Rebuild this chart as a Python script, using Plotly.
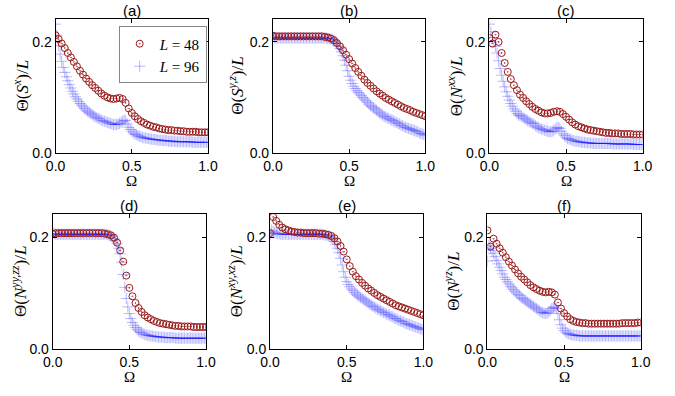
import numpy as np
import plotly.graph_objects as go

# ---------------- data ----------------
OMEGA_48 = np.round(np.arange(51) * 0.02, 2)
OMEGA_96 = np.round(np.arange(101) * 0.01, 2)

PANEL_TITLES = ["(a)", "(b)", "(c)", "(d)", "(e)", "(f)"]
Y_LABELS = [
    "Θ(<i>S</i><sup><i>x</i></sup>)/<i>L</i>",
    "Θ(<i>S</i><sup><i>y,z</i></sup>)/<i>L</i>",
    "Θ(<i>N</i><sup><i>xx</i></sup>)/<i>L</i>",
    "Θ(<i>N</i><sup><i>yy,zz</i></sup>)/<i>L</i>",
    "Θ(<i>N</i><sup><i>xy,xz</i></sup>)/<i>L</i>",
    "Θ(<i>N</i><sup><i>yz</i></sup>)/<i>L</i>",
]
SERIES_NAMES = ["<i>L</i> = 48", "<i>L</i> = 96"]
X_TICKS = [0.0, 0.5, 1.0]
Y_TICKS = [0.0, 0.2]

a48 = [0.212, 0.205, 0.197, 0.189, 0.180, 0.172, 0.164, 0.156, 0.148, 0.141,
       0.134, 0.128, 0.122, 0.117, 0.112, 0.107, 0.103, 0.100, 0.098, 0.097,
       0.098, 0.099, 0.097, 0.090, 0.080, 0.072, 0.066, 0.061, 0.057, 0.054,
       0.051, 0.049, 0.047, 0.046, 0.044, 0.043, 0.042, 0.041, 0.041, 0.040,
       0.040, 0.039, 0.039, 0.038, 0.038, 0.038, 0.038, 0.037, 0.037, 0.037, 0.037]
a96 = [0.232, 0.212, 0.193, 0.178, 0.165, 0.154, 0.145, 0.137, 0.130, 0.123,
       0.117, 0.111, 0.106, 0.101, 0.097, 0.093, 0.089, 0.086, 0.083, 0.080,
       0.077, 0.075, 0.073, 0.071, 0.069, 0.067, 0.065, 0.064, 0.062, 0.061,
       0.059, 0.058, 0.057, 0.056, 0.055, 0.054, 0.053, 0.052, 0.051, 0.051,
       0.051, 0.052, 0.053, 0.055, 0.057, 0.059, 0.058, 0.052, 0.046, 0.042,
       0.039, 0.036, 0.034, 0.033, 0.031, 0.030, 0.029, 0.028, 0.027, 0.027,
       0.026, 0.026, 0.025, 0.025, 0.024, 0.024, 0.024, 0.023, 0.023, 0.023,
       0.022, 0.022, 0.022, 0.022, 0.021, 0.021, 0.021, 0.021, 0.021, 0.020,
       0.020, 0.020, 0.020, 0.020, 0.020, 0.020, 0.020, 0.020, 0.020, 0.020,
       0.019, 0.019, 0.019, 0.019, 0.019, 0.019, 0.019, 0.019, 0.019, 0.019, 0.019]

b48 = [0.211, 0.210, 0.210, 0.210, 0.210, 0.210, 0.210, 0.210, 0.210, 0.210,
       0.210, 0.210, 0.210, 0.210, 0.210, 0.210, 0.210, 0.209, 0.208, 0.206,
       0.203, 0.198, 0.192, 0.185, 0.177, 0.169, 0.161, 0.153, 0.146, 0.139,
       0.132, 0.126, 0.121, 0.116, 0.111, 0.107, 0.103, 0.099, 0.096, 0.093,
       0.090, 0.087, 0.084, 0.081, 0.079, 0.077, 0.074, 0.072, 0.070, 0.068, 0.066]
b96 = [0.209, 0.208, 0.207, 0.207, 0.207, 0.207, 0.207, 0.207, 0.207, 0.207,
       0.207, 0.207, 0.207, 0.207, 0.207, 0.207, 0.207, 0.207, 0.207, 0.207,
       0.207, 0.207, 0.207, 0.207, 0.207, 0.207, 0.207, 0.207, 0.207, 0.207,
       0.207, 0.207, 0.207, 0.207, 0.207, 0.207, 0.206, 0.206, 0.205, 0.204,
       0.202, 0.200, 0.197, 0.193, 0.188, 0.182, 0.175, 0.167, 0.158, 0.148,
       0.138, 0.131, 0.125, 0.120, 0.116, 0.112, 0.109, 0.106, 0.103, 0.100,
       0.097, 0.094, 0.091, 0.088, 0.085, 0.083, 0.081, 0.079, 0.077, 0.074,
       0.072, 0.070, 0.068, 0.066, 0.065, 0.063, 0.062, 0.060, 0.059, 0.058,
       0.056, 0.055, 0.053, 0.052, 0.050, 0.049, 0.047, 0.046, 0.045, 0.044,
       0.043, 0.042, 0.041, 0.040, 0.039, 0.038, 0.036, 0.035, 0.034, 0.033, 0.031]

c48 = [0.207, 0.197, 0.213, 0.200, 0.180, 0.162, 0.146, 0.133, 0.122, 0.113,
       0.105, 0.099, 0.093, 0.088, 0.083, 0.079, 0.076, 0.073, 0.071, 0.071,
       0.072, 0.074, 0.075, 0.074, 0.070, 0.065, 0.060, 0.055, 0.051, 0.048,
       0.046, 0.044, 0.042, 0.041, 0.040, 0.039, 0.038, 0.037, 0.036, 0.036,
       0.035, 0.035, 0.035, 0.034, 0.034, 0.034, 0.034, 0.033, 0.033, 0.033, 0.033]
c96 = [0.232, 0.218, 0.208, 0.200, 0.192, 0.180, 0.166, 0.152, 0.140, 0.129,
       0.119, 0.110, 0.102, 0.095, 0.089, 0.084, 0.079, 0.075, 0.071, 0.068,
       0.068, 0.066, 0.064, 0.062, 0.060, 0.058, 0.056, 0.055, 0.053, 0.052,
       0.049, 0.047, 0.046, 0.044, 0.043, 0.042, 0.041, 0.040, 0.039, 0.038,
       0.038, 0.039, 0.041, 0.043, 0.045, 0.046, 0.044, 0.039, 0.034, 0.031,
       0.028, 0.026, 0.025, 0.024, 0.023, 0.022, 0.021, 0.021, 0.020, 0.020,
       0.019, 0.019, 0.019, 0.018, 0.018, 0.018, 0.018, 0.017, 0.017, 0.017,
       0.017, 0.017, 0.017, 0.017, 0.017, 0.017, 0.017, 0.017, 0.017, 0.017,
       0.016, 0.016, 0.016, 0.016, 0.016, 0.016, 0.016, 0.016, 0.016, 0.016,
       0.016, 0.016, 0.016, 0.016, 0.015, 0.015, 0.015, 0.015, 0.015, 0.015, 0.015]

d48 = [0.206, 0.207, 0.207, 0.207, 0.207, 0.207, 0.207, 0.207, 0.207, 0.207,
       0.207, 0.207, 0.207, 0.207, 0.207, 0.207, 0.207, 0.206, 0.205, 0.203,
       0.199, 0.190, 0.176, 0.156, 0.131, 0.109, 0.094, 0.082, 0.073, 0.066,
       0.060, 0.056, 0.053, 0.050, 0.048, 0.046, 0.045, 0.044, 0.043, 0.042,
       0.041, 0.041, 0.040, 0.040, 0.040, 0.040, 0.039, 0.039, 0.039, 0.039, 0.039]
d96 = [0.210, 0.206, 0.205, 0.205, 0.205, 0.205, 0.205, 0.205, 0.205, 0.205,
       0.205, 0.205, 0.205, 0.205, 0.205, 0.205, 0.205, 0.205, 0.205, 0.205,
       0.205, 0.205, 0.205, 0.205, 0.205, 0.205, 0.205, 0.205, 0.205, 0.205,
       0.205, 0.205, 0.205, 0.205, 0.205, 0.205, 0.204, 0.203, 0.202, 0.200,
       0.197, 0.193, 0.188, 0.180, 0.170, 0.155, 0.133, 0.110, 0.090, 0.075,
       0.063, 0.054, 0.047, 0.042, 0.038, 0.035, 0.032, 0.030, 0.029, 0.027,
       0.026, 0.025, 0.024, 0.024, 0.023, 0.023, 0.022, 0.022, 0.022, 0.021,
       0.021, 0.021, 0.021, 0.020, 0.020, 0.020, 0.020, 0.020, 0.020, 0.020,
       0.019, 0.019, 0.019, 0.019, 0.019, 0.019, 0.019, 0.019, 0.019, 0.019,
       0.019, 0.019, 0.019, 0.019, 0.019, 0.019, 0.019, 0.019, 0.019, 0.019, 0.019]

e48 = [0.207, 0.236, 0.229, 0.222, 0.217, 0.214, 0.212, 0.210, 0.209, 0.208,
       0.208, 0.207, 0.207, 0.207, 0.207, 0.207, 0.206, 0.206, 0.205, 0.204,
       0.202, 0.198, 0.192, 0.184, 0.174, 0.160, 0.148, 0.138, 0.130, 0.124,
       0.118, 0.113, 0.108, 0.104, 0.100, 0.096, 0.093, 0.090, 0.087, 0.084,
       0.081, 0.078, 0.076, 0.074, 0.072, 0.070, 0.068, 0.066, 0.064, 0.062, 0.060]
e96 = [0.205, 0.212, 0.210, 0.208, 0.207, 0.206, 0.206, 0.205, 0.205, 0.205,
       0.205, 0.205, 0.205, 0.205, 0.205, 0.205, 0.205, 0.205, 0.205, 0.205,
       0.205, 0.205, 0.205, 0.205, 0.205, 0.205, 0.205, 0.205, 0.205, 0.205,
       0.205, 0.205, 0.205, 0.205, 0.205, 0.204, 0.204, 0.203, 0.202, 0.201,
       0.199, 0.196, 0.192, 0.187, 0.180, 0.172, 0.162, 0.150, 0.138, 0.128,
       0.120, 0.115, 0.111, 0.107, 0.104, 0.101, 0.098, 0.096, 0.094, 0.092,
       0.090, 0.088, 0.086, 0.084, 0.082, 0.080, 0.078, 0.076, 0.075, 0.073,
       0.071, 0.070, 0.068, 0.067, 0.065, 0.064, 0.062, 0.061, 0.060, 0.058,
       0.057, 0.055, 0.054, 0.053, 0.051, 0.050, 0.049, 0.048, 0.046, 0.045,
       0.044, 0.043, 0.042, 0.041, 0.040, 0.039, 0.038, 0.037, 0.036, 0.035, 0.034]

f48 = [0.212, 0.183, 0.197, 0.188, 0.180, 0.172, 0.164, 0.156, 0.149, 0.142,
       0.135, 0.129, 0.124, 0.119, 0.114, 0.110, 0.107, 0.104, 0.102, 0.101,
       0.102, 0.101, 0.097, 0.083, 0.072, 0.064, 0.058, 0.053, 0.050, 0.048,
       0.047, 0.046, 0.046, 0.045, 0.045, 0.045, 0.045, 0.045, 0.045, 0.045,
       0.045, 0.045, 0.045, 0.045, 0.046, 0.046, 0.046, 0.046, 0.046, 0.047, 0.047]
f96 = [0.157, 0.185, 0.180, 0.176, 0.171, 0.165, 0.158, 0.152, 0.146, 0.140,
       0.134, 0.128, 0.124, 0.120, 0.116, 0.112, 0.109, 0.106, 0.103, 0.100,
       0.097, 0.095, 0.092, 0.090, 0.088, 0.086, 0.084, 0.082, 0.080, 0.078,
       0.076, 0.074, 0.072, 0.070, 0.068, 0.066, 0.065, 0.064, 0.063, 0.064,
       0.066, 0.069, 0.072, 0.074, 0.075, 0.072, 0.063, 0.052, 0.043, 0.037,
       0.033, 0.030, 0.028, 0.027, 0.026, 0.025, 0.025, 0.024, 0.024, 0.024,
       0.023, 0.023, 0.023, 0.023, 0.023, 0.023, 0.023, 0.023, 0.023, 0.023,
       0.023, 0.023, 0.023, 0.023, 0.023, 0.023, 0.023, 0.023, 0.023, 0.023,
       0.023, 0.023, 0.023, 0.023, 0.023, 0.023, 0.023, 0.023, 0.023, 0.023,
       0.023, 0.023, 0.023, 0.023, 0.023, 0.023, 0.023, 0.023, 0.023, 0.023, 0.023]

SERIES_48 = [a48, b48, c48, d48, e48, f48]
SERIES_96 = [a96, b96, c96, d96, e96, f96]

# ---------------- layout geometry (pixels) ----------------
W, H = 675, 396
X_PIX = [(47, 204), (271, 428), (494, 652), (44, 202), (268, 426), (492, 650)]
Y_PIX = [(19, 156), (19, 156), (19, 156), (218, 356), (218, 356), (218, 356)]
YLAB_X = [11, 233, 458, 9, 232, 456]
TITLE_Y = [11, 11, 11, 210, 210, 210]
OMEGA_Y = [185, 185, 185, 385, 385, 385]

RED = "#9a1a1a"
BLUE = "rgba(0,0,255,0.28)"
SANS = "Liberation Sans, Arial, sans-serif"
SERIF = "Liberation Serif, Times New Roman, serif"

fig = go.Figure()
annotations = []
layout = {}
for i in range(6):
    k = "" if i == 0 else str(i + 1)
    xa, ya = "x" + k, "y" + k
    fig.add_trace(go.Scatter(
        x=OMEGA_96, y=SERIES_96[i], mode="markers", xaxis=xa, yaxis=ya,
        name=SERIES_NAMES[1], showlegend=(i == 0), legendrank=2,
        marker=dict(symbol="cross-thin-open", size=8,
                    line=dict(color=BLUE, width=1), color=BLUE)))
    fig.add_trace(go.Scatter(
        x=OMEGA_48, y=SERIES_48[i], mode="markers", xaxis=xa, yaxis=ya,
        name=SERIES_NAMES[0], showlegend=(i == 0), legendrank=1,
        marker=dict(symbol="circle-open-dot", size=7,
                    line=dict(color=RED, width=1), color=RED)))
    x0, x1 = X_PIX[i]
    y0, y1 = Y_PIX[i]
    common = dict(showline=True, linecolor="black", linewidth=1, mirror="ticks",
                  ticks="inside", ticklen=4, tickcolor="black", showgrid=False,
                  zeroline=False, tickfont=dict(family=SANS, size=14, color="black"),
                  tickformat=".1f")
    layout["xaxis" + k] = dict(domain=[x0 / W, x1 / W], range=[0, 1],
                               tickvals=X_TICKS, anchor=ya, **common)
    layout["yaxis" + k] = dict(domain=[1 - y1 / H, 1 - y0 / H], range=[0, 0.242],
                               tickvals=Y_TICKS, anchor=xa, **common)
    cx = (x0 + x1) / 2 / W
    annotations.append(dict(text=PANEL_TITLES[i], xref="paper", yref="paper",
                            x=cx, y=1 - TITLE_Y[i] / H, showarrow=False,
                            xanchor="center", yanchor="middle",
                            font=dict(family=SANS, size=15, color="black")))
    annotations.append(dict(text="Ω", xref="paper", yref="paper",
                            x=cx, y=1 - OMEGA_Y[i] / H, showarrow=False,
                            xanchor="center", yanchor="middle",
                            font=dict(family=SERIF, size=15, color="black")))
    annotations.append(dict(text=Y_LABELS[i], xref="paper", yref="paper",
                            x=YLAB_X[i] / W, y=1 - (y0 + y1) / 2 / H,
                            showarrow=False, textangle=-90,
                            xanchor="center", yanchor="middle",
                            font=dict(family=SERIF, size=17, color="black")))

fig.update_layout(
    width=W, height=H, margin=dict(l=0, r=0, t=0, b=0),
    paper_bgcolor="white", plot_bgcolor="white",
    annotations=annotations,
    legend=dict(x=112 / W, y=1 - 27 / H, xanchor="left", yanchor="top",
                bgcolor="white", bordercolor="#888888", borderwidth=1,
                font=dict(family=SERIF, size=15, color="black"),
                tracegroupgap=0, itemwidth=30),
    **layout,
)
fig.write_html("out.html")
